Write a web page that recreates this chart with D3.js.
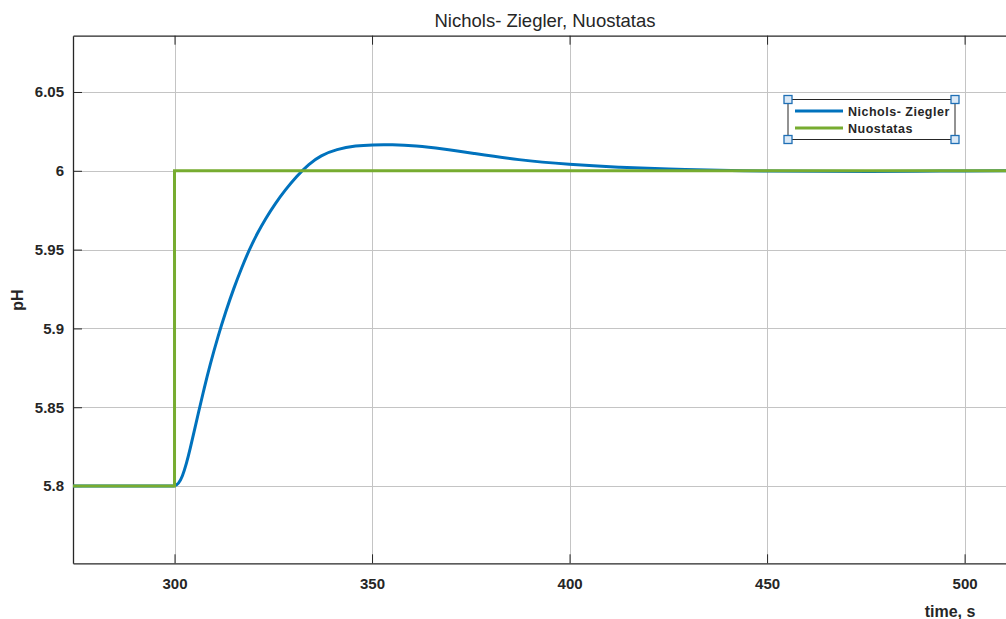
<!DOCTYPE html>
<html>
<head>
<meta charset="utf-8">
<script src="https://cdn.jsdelivr.net/npm/d3@7"></script>
<style>
  html, body { margin: 0; padding: 0; background: #ffffff; overflow: hidden; }
  svg { display: block; }
  text { font-family: "Liberation Sans", Arial, Helvetica, sans-serif; fill: #262626; }
</style>
</head>
<body>
<svg id="chart" width="1006" height="619"></svg>
<script>
// Axis limits and ticks
const xDomain = [274.3, 512];
const yDomain = [5.751, 6.0857];
const xTicks = [300, 350, 400, 450, 500];
const xTickLabels = ["300", "350", "400", "450", "500"];
const yTicks = [5.8, 5.85, 5.9, 5.95, 6, 6.05];
const yTickLabels = ["5.8", "5.85", "5.9", "5.95", "6", "6.05"];

// Nichols-Ziegler tuned response (time in s, pH)
const nzTime = [274.3, 290, 299, 300, 301, 302, 303, 304, 305, 306, 307.5, 309, 311, 313, 315, 317, 319,
                321, 323, 325.5, 328, 331, 334, 337, 341, 346, 350, 355, 361, 368, 375, 387,
                400, 412.5, 425, 438, 450, 463, 476, 488, 500, 512];
const nzPH   = [5.8, 5.8, 5.8, 5.8, 5.8013, 5.806, 5.814, 5.824, 5.835, 5.846, 5.862, 5.877, 5.895, 5.911,
                5.9255, 5.9385, 5.9505, 5.9605, 5.9695, 5.9792, 5.9878, 5.9968, 6.0043, 6.0097,
                6.0137, 6.016, 6.0165, 6.0166, 6.0159, 6.0139, 6.0113, 6.0068, 6.0040, 6.0022,
                6.0010, 6.0003, 5.9998, 5.9996, 5.9996, 5.9997, 5.9999, 6.0];

// Setpoint (Nuostatas) step
const spTime = [274.3, 300, 300, 512];
const spPH   = [5.8, 5.8, 6.0, 6.0];

const seriesNames = ["Nichols- Ziegler", "Nuostatas"];
const seriesColors = ["#0072BD", "#77AC30"];

const svg = d3.select("#chart");
const plot = { left: 73, top: 35.7, right: 1012, bottom: 563.3 };

const x = d3.scaleLinear().domain(xDomain).range([plot.left, plot.right]);
const y = d3.scaleLinear().domain(yDomain).range([plot.bottom, plot.top]);

svg.append("defs").append("clipPath").attr("id", "plotClip")
  .append("rect")
  .attr("x", plot.left).attr("y", plot.top)
  .attr("width", plot.right - plot.left).attr("height", plot.bottom - plot.top);

// Grid
const grid = svg.append("g").attr("stroke", "#c4c4c4").attr("stroke-width", 1).attr("shape-rendering", "crispEdges");
grid.selectAll("line.vx").data(xTicks).join("line")
  .attr("x1", d => Math.round(x(d)) + 0.5).attr("x2", d => Math.round(x(d)) + 0.5)
  .attr("y1", plot.top).attr("y2", plot.bottom);
grid.selectAll("line.hy").data(yTicks).join("line")
  .attr("y1", d => Math.round(y(d)) + 0.5).attr("y2", d => Math.round(y(d)) + 0.5)
  .attr("x1", plot.left).attr("x2", plot.right);

// Bottom axis with inward ticks
const xAxis = d3.axisBottom(x).tickValues(xTicks).tickFormat((d, i) => xTickLabels[i])
  .tickSizeInner(-9).tickSizeOuter(0).tickPadding(15);
const gx = svg.append("g").attr("transform", `translate(0,${plot.bottom})`).call(xAxis);
gx.select(".domain").attr("stroke", "#262626").attr("stroke-width", 1.3);
gx.selectAll(".tick line").attr("stroke", "#262626");
gx.selectAll(".tick text").attr("font-size", 15).attr("font-weight", "bold")
  .attr("font-family", "'Liberation Sans', Arial, sans-serif").attr("fill", "#262626");

// Top edge of the box with inward ticks
const xAxisTop = d3.axisTop(x).tickValues(xTicks).tickFormat("").tickSizeInner(-9).tickSizeOuter(0);
const gxt = svg.append("g").attr("transform", `translate(0,${plot.top})`).call(xAxisTop);
gxt.select(".domain").attr("stroke", "#262626").attr("stroke-width", 1.3);
gxt.selectAll(".tick line").attr("stroke", "#262626");

// Left axis with inward ticks
const yAxis = d3.axisLeft(y).tickValues(yTicks).tickFormat((d, i) => yTickLabels[i])
  .tickSizeInner(-9).tickSizeOuter(0).tickPadding(9);
const gy = svg.append("g").attr("transform", `translate(${plot.left},0)`).call(yAxis);
gy.select(".domain").attr("stroke", "#262626").attr("stroke-width", 1.3);
gy.selectAll(".tick line").attr("stroke", "#262626");
gy.selectAll(".tick text").attr("font-size", 15).attr("font-weight", "bold")
  .attr("font-family", "'Liberation Sans', Arial, sans-serif").attr("fill", "#262626");

// Lines
const lines = svg.append("g").attr("clip-path", "url(#plotClip)");
const nzData = nzTime.map((t, i) => [t, nzPH[i]]);
const spData = spTime.map((t, i) => [t, spPH[i]]);

lines.append("path").datum(nzData)
  .attr("fill", "none").attr("stroke", seriesColors[0]).attr("stroke-width", 3)
  .attr("stroke-linejoin", "round")
  .attr("d", d3.line().x(d => x(d[0])).y(d => y(d[1])).curve(d3.curveBasis));

lines.append("path").datum(spData)
  .attr("fill", "none").attr("stroke", seriesColors[1]).attr("stroke-width", 3)
  .attr("d", d3.line().x(d => x(d[0])).y(d => y(d[1])));

// Title and axis labels
svg.append("text").attr("x", 545).attr("y", 27).attr("text-anchor", "middle")
  .attr("font-size", 18.5).text("Nichols- Ziegler, Nuostatas");

svg.append("text").attr("transform", "translate(23,300) rotate(-90)")
  .attr("text-anchor", "middle").attr("font-size", 16).attr("font-weight", "bold").text("pH");

svg.append("text").attr("x", 950).attr("y", 617).attr("text-anchor", "middle")
  .attr("font-size", 16).attr("font-weight", "bold").text("time, s");

// Legend
const leg = { x0: 788, y0: 99.5, x1: 955, y1: 139.5 };
const lg = svg.append("g");
lg.append("rect").attr("x", leg.x0).attr("y", leg.y0)
  .attr("width", leg.x1 - leg.x0).attr("height", leg.y1 - leg.y0)
  .attr("fill", "#ffffff").attr("stroke", "#262626").attr("stroke-width", 1);

seriesNames.forEach((name, i) => {
  const cy = 111 + i * 17;
  lg.append("line").attr("x1", 795).attr("x2", 843).attr("y1", cy).attr("y2", cy)
    .attr("stroke", seriesColors[i]).attr("stroke-width", 3);
  lg.append("text").attr("x", 848).attr("y", cy + 4.5)
    .attr("font-size", 12.5).attr("letter-spacing", 0.5).attr("font-weight", "bold").text(name);
});

// Selection handles on the legend corners
const corners = [[leg.x0, leg.y0], [leg.x1, leg.y0], [leg.x0, leg.y1], [leg.x1, leg.y1]];
lg.selectAll("rect.handle").data(corners).join("rect")
  .attr("class", "handle")
  .attr("x", d => d[0] - 4).attr("y", d => d[1] - 4)
  .attr("width", 8).attr("height", 8)
  .attr("fill", "#dbe9f6").attr("stroke", "#1f6fb5").attr("stroke-width", 1.3);
</script>
</body>
</html>
